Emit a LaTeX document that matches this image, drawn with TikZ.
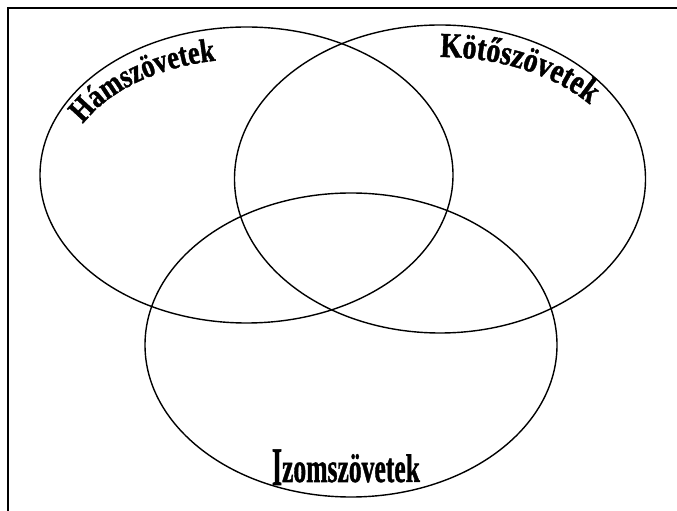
\documentclass[tikz,border=0pt]{standalone}
\usepackage{fontspec}
\setmainfont{Liberation Serif}
\newfontfamily\wafam{Liberation Serif}[BoldFeatures={FakeBold=1.2,FakeStretch=0.8}]
\usetikzlibrary{decorations.text}
\tikzset{
  venn/.style={draw=black, line width=1.4pt},
  frameline/.style={draw=black, line width=2pt},
}
\newcommand{\wafont}{\wafam\bfseries\fontsize{35}{40}\selectfont}
\newcommand{\wafonth}{\wafam\bfseries\fontsize{33}{38}\selectfont}
\begin{document}
\begin{tikzpicture}[x=1pt,y=1pt]
\useasboundingbox (0,0) rectangle (677,511);
% frame (top and left only visible)
\coordinate (fl) at (8,0);
\coordinate (ftl) at (8,503);
\coordinate (fr) at (677,503);
\draw[frameline] (fl) -- (ftl) -- (fr);
% ellipses
\draw[venn] (246.5,336) ellipse[x radius=206.5, y radius=148];
\draw[venn] (440,332) ellipse[x radius=205.5, y radius=154];
\draw[venn] (351,166) ellipse[x radius=206, y radius=152];
% curved labels
\path[decorate, decoration={text along path, text={|\wafonth|Hámszövetek}}]
  (246.5,336) ++(154:182 and 116) arc[start angle=154, end angle=60, x radius=182, y radius=116];
\path[decorate, decoration={text along path, text={|\wafont|Kötőszövetek}}]
  (440,332) ++(90:189 and 122) arc[start angle=90, end angle=5, x radius=189, y radius=122];
\node[anchor=base, inner sep=0pt, font=\wafam\bfseries\fontsize{32}{36}\selectfont] (izom) at (346,29)
  {\raisebox{-3pt}{\scalebox{1}[1.7]{I}}\scalebox{1}[1.3]{zomszövete}\scalebox{1}[1.25]{k}};
\end{tikzpicture}
\end{document}
